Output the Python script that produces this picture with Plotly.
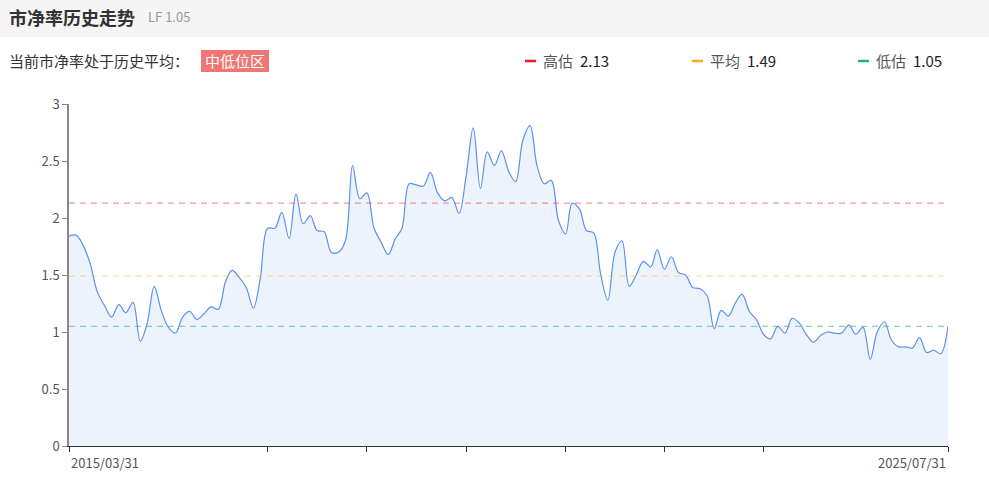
import pandas as pd
import plotly.graph_objects as go

# ---- data ----
dates = pd.date_range("2015-03-31", "2025-07-31", freq=pd.offsets.MonthEnd())
pb_values = [
    1.84, 1.85, 1.76, 1.60, 1.35, 1.23, 1.13, 1.24, 1.17, 1.26,
    0.92, 1.07, 1.40, 1.19, 1.04, 0.99, 1.13, 1.18, 1.11, 1.16,
    1.22, 1.20, 1.44, 1.54, 1.48, 1.39, 1.21, 1.48, 1.91, 1.91,
    2.05, 1.82, 2.21, 1.95, 2.02, 1.89, 1.88, 1.70, 1.70, 1.80,
    2.46, 2.17, 2.22, 1.91, 1.79, 1.68, 1.82, 1.91, 2.30, 2.29,
    2.28, 2.40, 2.22, 2.15, 2.18, 2.04, 2.36, 2.79, 2.26, 2.58,
    2.46, 2.59, 2.41, 2.32, 2.68, 2.81, 2.46, 2.30, 2.33, 1.98,
    1.86, 2.13, 2.08, 1.89, 1.87, 1.51, 1.28, 1.70, 1.80, 1.40,
    1.50, 1.62, 1.57, 1.72, 1.55, 1.66, 1.52, 1.50, 1.39, 1.38,
    1.32, 1.03, 1.19, 1.14, 1.26, 1.33, 1.18, 1.11, 0.98, 0.94,
    1.05, 0.99, 1.12, 1.08, 0.98, 0.91, 0.97, 1.00, 0.99, 0.99,
    1.06, 0.98, 1.04, 0.76, 1.00, 1.09, 0.93, 0.87, 0.87, 0.86,
    0.95, 0.82, 0.84, 0.81, 1.05,
]
level_names = ["高估", "平均", "低估"]
level_values = [2.13, 1.49, 1.05]
level_colors = ["#f0142d", "#fbaa1e", "#2ab06a"]
level_dash_colors = ["rgba(235,70,60,0.55)", "rgba(251,180,30,0.45)", "rgba(42,176,106,0.55)"]
tick_idx = [0, 28, 42, 56, 70, 84, 98, 124]
y_ticks = [0, 0.5, 1, 1.5, 2, 2.5, 3]

FONT = "Noto Sans CJK SC, Noto Sans, sans-serif"

fig = go.Figure()
fig.add_trace(go.Scatter(
    x=dates, y=pb_values, mode="lines",
    line=dict(color="#5b8ff0", width=1.2, shape="spline", smoothing=1.0),
    fill="tozeroy", fillcolor="rgba(91,143,240,0.11)",
    hoverinfo="x+y", showlegend=False,
))

shapes = []
# header band
shapes.append(dict(type="rect", xref="paper", yref="paper",
                   x0=-0.2, x1=1.2, y0=(446 - 37) / 342, y1=1.5,
                   fillcolor="#f5f5f5", line=dict(width=0), layer="below"))
# level lines
for v, c in zip(level_values, level_dash_colors):
    shapes.append(dict(type="line", xref="paper", yref="y", x0=0, x1=1, y0=v, y1=v,
                       line=dict(color=c, width=1.2, dash="6px,5px")))

def px(xp):
    return (xp - 69) / 879

def py(yp):
    return (446 - yp) / 342

# badge
shapes.append(dict(type="rect", xref="paper", yref="paper",
                   x0=px(201), x1=px(269), y0=py(72), y1=py(50),
                   fillcolor="#f07676", line=dict(width=0)))

ann = []
ann.append(dict(text="<b>市净率历史走势</b>", x=px(7), y=py(17), xref="paper", yref="paper",
                xanchor="left", yanchor="middle", showarrow=False,
                font=dict(size=18, color="#333333", family=FONT)))
ann.append(dict(text="LF 1.05", x=px(146), y=py(16), xref="paper", yref="paper",
                xanchor="left", yanchor="middle", showarrow=False,
                font=dict(size=13, color="#999999", family=FONT)))
ann.append(dict(text="当前市净率处于历史平均：", x=px(7), y=py(61), xref="paper", yref="paper",
                xanchor="left", yanchor="middle", showarrow=False,
                font=dict(size=15, color="#333333", family=FONT)))
ann.append(dict(text="中低位区", x=px(235), y=py(61), xref="paper", yref="paper",
                xanchor="center", yanchor="middle", showarrow=False,
                font=dict(size=15, color="#ffffff", family=FONT)))

legend_line_x = [525, 692, 858]
for name, val, col, lx in zip(level_names, level_values, level_colors, legend_line_x):
    shapes.append(dict(type="line", xref="paper", yref="paper",
                       x0=px(lx), x1=px(lx + 11), y0=py(61), y1=py(61),
                       line=dict(color=col, width=2.5)))
    ann.append(dict(text=name, x=px(lx + 16), y=py(61), xref="paper", yref="paper",
                    xanchor="left", yanchor="middle", showarrow=False,
                    font=dict(size=15, color="#555555", family=FONT)))
    ann.append(dict(text=f"{val:.2f}", x=px(lx + 53), y=py(61), xref="paper", yref="paper",
                    xanchor="left", yanchor="middle", showarrow=False,
                    font=dict(size=15, color="#222222", family=FONT)))

# x-axis end labels
ann.append(dict(text=dates[0].strftime("%Y/%m/%d"), x=0, y=py(462), xref="paper", yref="paper",
                xanchor="left", yanchor="middle", showarrow=False,
                font=dict(size=13, color="#555555", family=FONT)))
ann.append(dict(text=dates[-1].strftime("%Y/%m/%d"), x=1, y=py(462), xref="paper", yref="paper",
                xanchor="right", yanchor="middle", showarrow=False,
                font=dict(size=13, color="#555555", family=FONT)))

fig.update_layout(
    width=989, height=478,
    margin=dict(l=69, r=41, t=104, b=32, pad=0),
    paper_bgcolor="#ffffff", plot_bgcolor="#ffffff",
    font=dict(family=FONT, color="#555555"),
    shapes=shapes, annotations=ann,
    showlegend=False,
)
fig.update_xaxes(
    range=[dates[0], dates[-1]],
    tickvals=[dates[i] for i in tick_idx], ticktext=[""] * len(tick_idx),
    ticks="outside", ticklen=5, tickcolor="#333333", tickwidth=1,
    showline=True, linecolor="#333333", linewidth=1,
    showgrid=False, zeroline=False,
)
fig.update_yaxes(
    range=[0, 3], tickvals=y_ticks, ticktext=[f"{v:g}" for v in y_ticks],
    ticks="outside", ticklen=5, tickcolor="#888888", tickwidth=1,
    showline=True, linecolor="#888888", linewidth=1.5,
    showgrid=False, zeroline=False,
    tickfont=dict(size=13, color="#555555", family=FONT),
)

fig.write_html(
    "out.html",
    config={"displayModeBar": False},
    post_script="document.body.style.margin='0';document.body.style.overflow='hidden';",
)
